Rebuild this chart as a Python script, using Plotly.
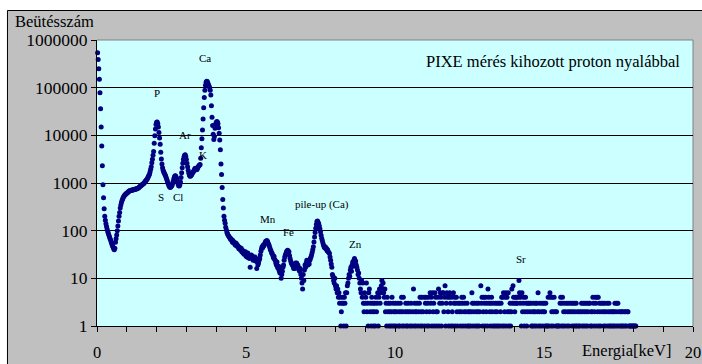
import plotly.graph_objects as go
import math

# ---- data ----
energy_step_keV = 0.02      # channel width
first_channel = 1

counts_0_2keV = [
    540000, 390000, 250000, 150000, 78000, 36000, 15000, 6000, 2300, 920,
    490, 290, 200, 165, 140, 122, 108, 96, 88, 80,
    74, 68, 63, 57, 52, 48, 45, 42, 40, 43,
    57, 68, 81, 100, 125, 160, 200, 240, 300, 345,
    390, 430, 462, 495, 520, 548, 565, 580, 600, 612,
    628, 648, 655, 676, 684, 698, 702, 706, 715, 716,
    724, 726, 735, 736, 748, 750, 760, 766, 785, 798,
    822, 840, 865, 882, 908, 926, 955, 970, 1005, 1035,
    1085, 1115, 1165, 1205, 1275, 1345, 1445, 1525, 1700, 1950,
    2200, 2650, 3150, 3800, 4600, 6800, 9800, 13500, 16800, 18800,
]
counts_2_4keV = [
    19000, 17500, 15000, 11500, 8800, 6500, 4400, 3200, 2500, 2100,
    1850, 1700, 1600, 1500, 1420, 1300, 1200, 1100, 1000, 930,
    870, 820, 800, 830, 860, 900, 1000, 1100, 1250, 1350,
    1420, 1400, 1300, 1200, 1050, 950, 880, 870, 920, 1050,
    1300, 1650, 2100, 2600, 3100, 3500, 3800, 3900, 3600, 3100,
    2600, 2200, 1850, 1620, 1480, 1380, 1400, 1450, 1500, 1600,
    1700, 1750, 1850, 2000, 2050, 1980, 1900, 1950, 2100, 2220,
    2300, 2380, 2450, 3300, 5500, 8500, 13000, 22000, 38000, 62000,
    88000, 112000, 130000, 137000, 134000, 125000, 115000, 108000, 100000, 88000,
    70000, 42000, 24000, 16000, 10500, 8200, 9500, 14000, 17000, 18500,
]
counts_4_6keV = [
    19500, 19000, 17500, 14500, 11000, 8000, 5000, 2500, 1500, 800,
    450, 300, 200, 165, 143, 118, 105, 92, 86, 80,
    77, 74, 70, 66, 68, 63, 58, 62, 55, 57,
    54, 50, 55, 48, 51, 46, 47, 42, 45, 41,
    39, 43, 36, 39, 34, 37, 32, 33, 36, 29,
    32, 28, 34, 27, 30, 26, 17, 29, 31, 27,
    29, 24, 27, 25, 28, 23, 26, 16, 22, 19,
    21, 24, 26, 31, 37, 42, 46, 44, 50, 48,
    52, 56, 60, 58, 62, 60, 55, 52, 48, 44,
    40, 38, 34, 33, 30, 27, 29, 25, 24, 21,
]
counts_6_8keV = [
    19, 22, 17, 16, 18, 14, 13, 15, 10, 12,
    14, 17, 19, 24, 28, 31, 33, 36, 38, 39,
    37, 36, 30, 26, 23, 21, 20, 19, 18, 16,
    19, 16, 21, 18, 21, 17, 19, 17, 15, 14,
    16, 12, 10, 8, 6, 12, 9, 15, 19, 17,
    21, 24, 20, 19, 22, 20, 24, 26, 28, 31,
    35, 40, 46, 58, 74, 92, 112, 135, 155, 160,
    150, 140, 125, 110, 95, 80, 69, 62, 55, 50,
    46, 44, 46, 42, 43, 38, 40, 36, 35, 33,
    28, 24, 20, 17, 12, 11, 9, 8, 10, 7,
]
counts_8_10keV = [
    6, 7, 5, 6, 4, 5, 3, 4, 1, 2,
    3, 4, 3, 1, 4, 3, 5, 1, 5, 7,
    8, 10, 12, 11, 15, 17, 14, 19, 22, 18,
    24, 26, 21, 23, 19, 17, 15, 12, 13, 10,
    8, 6, 5, 9, 4, 8, 3, 2, 5, 3,
    4, 8, 2, 3, 1, 5, 6, 2, 3, 1,
    4, 2, 3, 1, 2, 3, 1, 4, 2, 3,
    5, 1, 4, 6, 3, 5, 7, 9, 6, 8,
    5, 4, 6, 2, 3, 1, 4, 2, 3, 1,
    2, 3, 1, 2, 4, 1, 3, 2, 1, 2,
]
counts_10_14keV = [
    3, 1, 2, 0, 3, 1, 2, 1, 3, 2,
    4, 1, 2, 4, 1, 0, 2, 3, 1, 2,
    1, 3, 2, 0, 1, 2, 3, 1, 0, 2,
    6, 1, 3, 2, 1, 2, 3, 0, 1, 2,
    3, 4, 1, 2, 4, 1, 2, 0, 4, 1,
    3, 4, 2, 1, 3, 4, 1, 2, 5, 3,
    4, 1, 5, 2, 3, 1, 5, 4, 2, 1,
    2, 4, 6, 1, 3, 5, 4, 1, 3, 5,
    5, 2, 4, 7, 1, 3, 5, 4, 2, 1,
    4, 5, 3, 1, 4, 2, 1, 5, 3, 4,
    1, 3, 4, 2, 1, 3, 0, 2, 3, 1,
    2, 4, 3, 1, 4, 2, 3, 1, 2, 0,
    3, 1, 2, 1, 2, 0, 1, 2, 5, 3,
    1, 2, 3, 0, 1, 2, 3, 1, 2, 3,
    1, 2, 0, 7, 3, 4, 1, 2, 4, 3,
    1, 4, 2, 3, 1, 6, 4, 3, 2, 1,
    3, 4, 2, 1, 3, 0, 1, 2, 3, 1,
    2, 3, 1, 0, 3, 1, 2, 3, 4, 1,
    4, 5, 1, 2, 4, 5, 1, 4, 2, 5,
    1, 2, 3, 1, 2, 6, 3, 7, 4, 3,
]
counts_14_18keV = [
    2, 4, 3, 4, 3, 0, 4, 9, 5, 3,
    4, 1, 5, 2, 3, 4, 1, 2, 4, 3,
    1, 2, 3, 0, 3, 2, 0, 3, 1, 2,
    1, 3, 2, 1, 2, 3, 1, 3, 2, 5,
    1, 2, 3, 1, 0, 2, 3, 1, 2, 3,
    2, 1, 3, 1, 0, 1, 4, 1, 0, 5,
    4, 1, 2, 4, 1, 2, 4, 0, 2, 1,
    2, 1, 0, 1, 1, 0, 3, 4, 1, 3,
    4, 1, 2, 3, 1, 2, 0, 3, 1, 2,
    3, 1, 2, 0, 3, 2, 1, 3, 2, 1,
    3, 2, 1, 3, 1, 2, 0, 1, 2, 1,
    0, 2, 3, 1, 2, 3, 1, 2, 3, 1,
    2, 3, 1, 2, 3, 0, 3, 1, 2, 1,
    2, 4, 3, 1, 2, 4, 3, 1, 4, 2,
    4, 1, 3, 2, 1, 3, 0, 2, 3, 1,
    2, 3, 1, 2, 0, 3, 1, 2, 3, 1,
    2, 1, 0, 2, 1, 2, 1, 2, 3, 1,
    2, 3, 1, 3, 2, 1, 0, 2, 1, 2,
    1, 2, 1, 0, 2, 1, 2, 1, 0, 2,
    2, 1, 0, 1, 1, 0, 1, 1, 0, 1,
    1, 0, 1, 1, 0,
]

y_tick_values = [1, 10, 100, 1000, 10000, 100000, 1000000]
y_tick_labels = ["1", "10", "100", "1000", "10000", "100000", "1000000"]
x_tick_values = list(range(0, 21))
x_tick_labels = [str(v) if v % 5 == 0 else "" for v in x_tick_values]

# peak labels: (text, energy keV, counts position)
peak_labels = [
    ("Ca", 3.62, 412000),
    ("P", 2.01, 75500),
    ("Ar", 2.95, 10350),
    ("K", 3.56, 3830),
    ("S", 2.15, 500),
    ("Cl", 2.71, 500),
    ("Mn", 5.73, 179),
    ("Fe", 6.41, 91.6),
    ("pile-up (Ca)", 7.55, 352),
    ("Zn", 8.66, 52.5),
    ("Sr", 14.22, 25.4),
]
chart_note = "PIXE mérés kihozott proton nyalábbal"
y_title = "Beütésszám"
x_title = "Energia[keV]"

# ---- build ----
counts = (counts_0_2keV + counts_2_4keV + counts_4_6keV + counts_6_8keV
          + counts_8_10keV + counts_10_14keV + counts_14_18keV)
energy = [(first_channel + k) * energy_step_keV for k in range(len(counts))]
counts_plot = [c if c > 0 else None for c in counts]

FONT = "'Liberation Serif', 'Times New Roman', serif"

fig = go.Figure()
fig.add_trace(go.Scatter(
    x=energy, y=counts_plot, mode="markers",
    marker=dict(color="#000080", size=5, line=dict(width=0)),
    cliponaxis=False, hoverinfo="skip", showlegend=False,
))

annotations = []
for txt, ex, cy in peak_labels:
    annotations.append(dict(text=txt, x=ex, y=math.log10(cy), xref="x", yref="y",
                            showarrow=False, font=dict(family=FONT, size=11, color="black")))
annotations.append(dict(text=chart_note, x=15.31, y=5.54, xref="x", yref="y",
                        showarrow=False, font=dict(family=FONT, size=16.5, color="black")))
annotations.append(dict(text=y_title, x=-0.1414, y=1.066, xref="paper", yref="paper",
                        xanchor="left", yanchor="middle", showarrow=False,
                        font=dict(family=FONT, size=16.5, color="black")))
annotations.append(dict(text=x_title, x=17.79, y=-0.084, xref="x", yref="paper",
                        xanchor="center", yanchor="middle", showarrow=False,
                        font=dict(family=FONT, size=16.5, color="black")))

shapes = [
    dict(type="rect", xref="paper", yref="paper", x0=-0.3, x1=-0.1502, y0=-0.3, y1=1.3,
         fillcolor="white", line=dict(width=0), layer="below"),
    dict(type="rect", xref="paper", yref="paper", x0=-0.3, x1=1.3, y0=1.1031, y1=1.3,
         fillcolor="white", line=dict(width=0), layer="below"),
    dict(type="rect", xref="paper", yref="paper", x0=-0.1502, x1=1.03, y0=-0.16, y1=1.1031,
         fillcolor="rgba(0,0,0,0)", line=dict(color="black", width=1), layer="below"),
    dict(type="line", xref="paper", yref="paper", x0=0, x1=1, y0=1, y1=1,
         line=dict(color="#808080", width=1), layer="below"),
    dict(type="line", xref="paper", yref="paper", x0=1, x1=1, y0=0, y1=1,
         line=dict(color="#808080", width=1), layer="below"),
]

fig.update_layout(
    width=702, height=364,
    margin=dict(l=97, r=9, t=40, b=38, autoexpand=False),
    paper_bgcolor="#c0c0c0", plot_bgcolor="#ccffff",
    font=dict(family=FONT, size=16.5, color="black"),
    annotations=annotations, shapes=shapes,
    xaxis=dict(range=[0, 20], tickvals=x_tick_values, ticktext=x_tick_labels,
               ticks="outside", ticklen=5, tickcolor="black", showline=True,
               linecolor="black", linewidth=1, showgrid=False, zeroline=False,
               automargin=False, ticklabelstandoff=6,
               tickfont=dict(family=FONT, size=16.5, color="black")),
    yaxis=dict(type="log", range=[0, 6], tickvals=y_tick_values, ticktext=y_tick_labels,
               ticks="outside", ticklen=5, tickcolor="black", showline=True,
               linecolor="black", linewidth=1, showgrid=True, gridcolor="black",
               gridwidth=1, zeroline=False, automargin=False,
               tickfont=dict(family=FONT, size=17.5, color="black")),
)

fig.write_html(
    "out.html",
    config={"displayModeBar": False, "staticPlot": True},
    post_script="document.body.style.margin='0';document.body.style.overflow='hidden';",
)
